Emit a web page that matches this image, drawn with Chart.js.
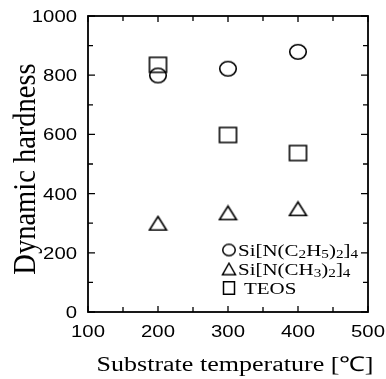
<!DOCTYPE html>
<html>
<head>
<meta charset="utf-8">
<script src="https://cdn.jsdelivr.net/npm/chart.js"></script>
<style>
  html, body { margin: 0; padding: 0; background: #fff; }
  #wrap { position: relative; width: 386px; height: 379px; }
</style>
</head>
<body>
<div id="wrap"><canvas id="chart"></canvas></div>
<script>
// Substrate temperature (deg C) for each deposition run
const temperatures = [200, 300, 400];

// Dynamic hardness per precursor
const hardnessSiNEt = [799, 822, 879];   // Si[N(C2H5)2]4
const hardnessSiNMe = [300, 335, 349];   // Si[N(CH3)2]4
const hardnessTEOS = [835, 598, 537];    // TEOS

const xTicks = [100, 200, 300, 400, 500];
const yTicks = [0, 200, 400, 600, 800, 1000];

const serif = '"Liberation Serif", "Times New Roman", serif';
const sans = '"Liberation Sans", Arial, sans-serif';
const WIDE = 1.27; // horizontal stretch used for all lettering

const toPoints = ys => temperatures.map((x, i) => ({ x, y: ys[i] }));

// hollow marker drawn on its own small canvas, so it can be slightly wider than tall
function makeMarker(shape, w, h, lw) {
  const c = document.createElement('canvas');
  c.width = Math.ceil(w + lw * 2);
  c.height = Math.ceil(h + lw * 2);
  const g = c.getContext('2d');
  const cx = c.width / 2, cy = c.height / 2;
  g.strokeStyle = '#000';
  g.lineWidth = lw;
  g.beginPath();
  if (shape === 'circle') {
    g.ellipse(cx, cy, w / 2, h / 2, 0, 0, Math.PI * 2);
  } else if (shape === 'triangle') {
    g.moveTo(cx, cy - h / 2);
    g.lineTo(cx + w / 2, cy + h / 2);
    g.lineTo(cx - w / 2, cy + h / 2);
    g.closePath();
  } else {
    g.rect(cx - w / 2, cy - h / 2, w, h);
  }
  g.stroke();
  return c;
}

const plotMarkers = {
  circle: makeMarker('circle', 16.5, 14.5, 1.6),
  triangle: makeMarker('triangle', 17, 13.5, 1.6),
  rect: makeMarker('rect', 17, 15, 1.6),
};
const keyMarkers = {
  circle: makeMarker('circle', 12.5, 11.5, 1.5),
  triangle: makeMarker('triangle', 13, 11.5, 1.5),
  rect: makeMarker('rect', 11, 12.5, 1.5),
};

// legend rows: marker + text pieces (1 = subscript)
const legendRows = [
  { style: 'circle', tx: 238, parts: [['Si[N(C', 0], ['2', 1], ['H', 0], ['5', 1], [')', 0], ['2', 1], [']', 0], ['4', 1]] },
  { style: 'triangle', tx: 238, parts: [['Si[N(CH', 0], ['3', 1], [')', 0], ['2', 1], [']', 0], ['4', 1]] },
  { style: 'rect', tx: 244, parts: [['TEOS', 0]] },
];

function wideText(ctx, text, x, y, align, font) {
  ctx.save();
  ctx.font = font;
  ctx.translate(x, y);
  ctx.scale(WIDE, 1);
  ctx.textAlign = align;
  ctx.textBaseline = 'alphabetic';
  ctx.fillText(text, 0, 0);
  ctx.restore();
}

// frame, inward ticks on all four sides, tick labels and axis titles
const frameAndLabels = {
  id: 'frameAndLabels',
  afterDraw(chart) {
    const { ctx, chartArea: a, scales } = chart;
    ctx.save();
    ctx.strokeStyle = '#000';
    ctx.fillStyle = '#000';
    ctx.lineWidth = 1.8;
    ctx.strokeRect(a.left, a.top, a.right - a.left, a.bottom - a.top);
    ctx.lineWidth = 1.3;
    for (let v = 100; v <= 500; v += 50) {
      const px = scales.x.getPixelForValue(v);
      const len = v % 100 === 0 ? 6 : 5;
      ctx.beginPath();
      ctx.moveTo(px, a.bottom); ctx.lineTo(px, a.bottom - len);
      ctx.moveTo(px, a.top); ctx.lineTo(px, a.top + len);
      ctx.stroke();
    }
    for (let v = 0; v <= 1000; v += 100) {
      const py = scales.y.getPixelForValue(v);
      const len = v % 200 === 0 ? 7 : 5;
      ctx.beginPath();
      ctx.moveTo(a.left, py); ctx.lineTo(a.left + len, py);
      ctx.moveTo(a.right, py); ctx.lineTo(a.right - len, py);
      ctx.stroke();
    }

    const tickFont = '16px ' + sans;
    xTicks.forEach(v => wideText(ctx, String(v), scales.x.getPixelForValue(v), a.bottom + 25, 'center', tickFont));
    yTicks.forEach(v => wideText(ctx, String(v), a.left - 11, scales.y.getPixelForValue(v) + 6, 'right', tickFont));

    wideText(ctx, 'Substrate temperature [℃]', (a.left + a.right) / 2 + 7, a.bottom + 59, 'center', '20.5px ' + serif);

    // rotated y title, thickened a little across the text line
    ctx.save();
    ctx.font = '28.5px ' + serif;
    ctx.translate(35, (a.top + a.bottom) / 2 + 5);
    ctx.rotate(-Math.PI / 2);
    ctx.scale(1, 1.1);
    ctx.textAlign = 'center';
    ctx.textBaseline = 'alphabetic';
    ctx.fillText('Dynamic hardness', 0, 0);
    ctx.restore();

    // key in the lower right of the plot
    let y0 = a.top + 234;
    legendRows.forEach(row => {
      const m = keyMarkers[row.style];
      ctx.drawImage(m, 229 - m.width / 2, y0 - m.height / 2);
      let tx = row.tx;
      row.parts.forEach(([t, sub]) => {
        ctx.save();
        ctx.font = (sub ? 12 : 16.5) + 'px ' + serif;
        ctx.translate(tx, sub ? y0 + 8 : y0 + 6);
        ctx.scale(WIDE, 1);
        ctx.fillText(t, 0, 0);
        tx += ctx.measureText(t).width * WIDE;
        ctx.restore();
      });
      y0 += 19;
    });
    ctx.restore();
  }
};

const series = (data, style) => ({
  data: toPoints(data),
  pointStyle: plotMarkers[style],
  pointRadius: 9,
  showLine: false,
});

new Chart(document.getElementById('chart'), {
  type: 'scatter',
  data: {
    datasets: [
      series(hardnessSiNEt, 'circle'),
      series(hardnessSiNMe, 'triangle'),
      series(hardnessTEOS, 'rect'),
    ]
  },
  options: {
    responsive: true,
    maintainAspectRatio: false,
    animation: false,
    events: [],
    layout: { padding: { top: 16, right: 18, left: 0, bottom: 0 } },
    plugins: { legend: { display: false }, tooltip: { enabled: false } },
    scales: {
      x: {
        type: 'linear',
        min: 100, max: 500,
        afterBuildTicks: s => { s.ticks = xTicks.map(value => ({ value })); },
        afterFit: s => { s.height = 67; },
        grid: { display: false, drawTicks: false },
        border: { display: false },
        ticks: { display: false },
      },
      y: {
        type: 'linear',
        min: 0, max: 1000,
        afterBuildTicks: s => { s.ticks = yTicks.map(value => ({ value })); },
        afterFit: s => { s.width = 88; },
        grid: { display: false, drawTicks: false },
        border: { display: false },
        ticks: { display: false },
      },
    },
  },
  plugins: [frameAndLabels],
});
</script>
</body>
</html>
